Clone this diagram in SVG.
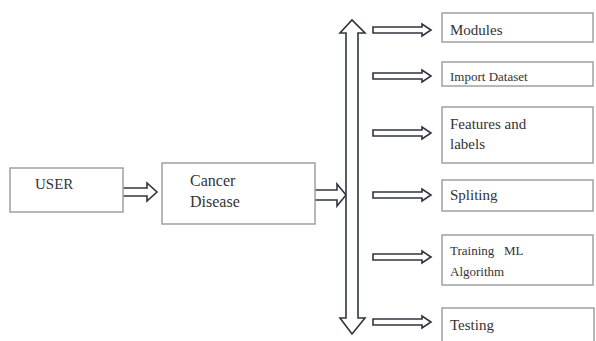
<svg xmlns="http://www.w3.org/2000/svg" width="596" height="341" viewBox="0 0 596 341">
<style>
.box{fill:#fff;stroke:#a0a0a0;stroke-width:1.5}
.arr{fill:#fff;stroke:#2f3440;stroke-width:1.6;stroke-linejoin:miter}
text{font-family:"Liberation Serif","Times New Roman",serif;fill:#333}
.t15{font-size:15px}
.t13{font-size:13px}
.t16{font-size:16px}
</style>
<rect width="596" height="341" fill="#fff"/>
<g id="connectors">
<path class="arr" d="M122,188 H147 V183 L157,192 L147,201 V196 H122 Z"/>
<path class="arr" d="M312,190 H337 V184 L346,195 L337,206 V200 H312 Z"/>
<path class="arr" d="M346,33 H340 L352,20 L365,33 H358 V318 H365 L352,334 L340,318 H346 Z"/>
<path class="arr" d="M373,27 H422 V24 L431,30 L422,36 V33 H373 Z"/>
<path class="arr" d="M373,73 H422 V70 L431,76 L422,82 V79 H373 Z"/>
<path class="arr" d="M373,130 H422 V127 L431,133 L422,139 V136 H373 Z"/>
<path class="arr" d="M373,192 H422 V189 L431,195 L422,201 V198 H373 Z"/>
<path class="arr" d="M373,254 H422 V251 L431,257 L422,263 V260 H373 Z"/>
<path class="arr" d="M373,319 H422 V316 L431,322 L422,328 V325 H373 Z"/>
</g>
<g id="user">
<rect class="box" x="10" y="168" width="113" height="44"/>
<text class="t15" x="35" y="189">USER</text>
</g>
<g id="cancer">
<rect class="box" x="162" y="163" width="153" height="61"/>
<text class="t16" x="190" y="186">Cancer</text>
<text class="t16" x="190" y="207">Disease</text>
</g>
<g id="modules">
<rect class="box" x="442" y="13" width="151" height="29"/>
<text class="t15" x="450" y="35">Modules</text>
</g>
<g id="import">
<rect class="box" x="442" y="62" width="151" height="24"/>
<text class="t13" x="450" y="81">Import Dataset</text>
</g>
<g id="features">
<rect class="box" x="442" y="107" width="151" height="56"/>
<text class="t15" x="450" y="129">Features and</text>
<text class="t15" x="450" y="149">labels</text>
</g>
<g id="spliting">
<rect class="box" x="442" y="180" width="151" height="31"/>
<text class="t15" x="450" y="200">Spliting</text>
</g>
<g id="training">
<rect class="box" x="442" y="235" width="151" height="50"/>
<text class="t13" x="450" y="255" xml:space="preserve">Training   ML</text>
<text class="t13" x="450" y="276">Algorithm</text>
</g>
<g id="testing">
<rect class="box" x="442" y="308" width="152" height="40"/>
<text class="t15" x="450" y="330">Testing</text>
</g>
</svg>
